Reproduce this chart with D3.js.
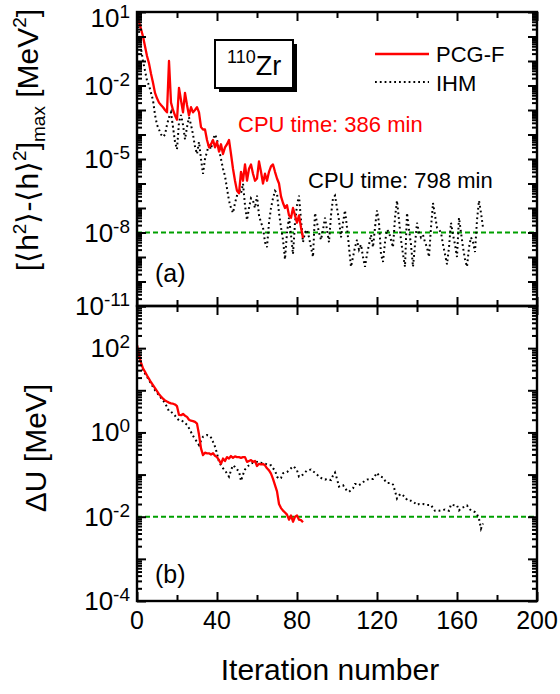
<!DOCTYPE html>
<html><head><meta charset="utf-8">
<script src="https://cdn.jsdelivr.net/npm/d3@7"></script>
<style>body{margin:0;background:#fff}text{font-family:"Liberation Sans",Arial,sans-serif}</style>
</head><body><svg id="c" width="560" height="694"></svg>
<script>
// ---------------- data ----------------
const pcgTop = [10,4,2,1,0.4,0.16,0.08,0.03,0.013,5e-3,
 3e-3,2e-3,1.6e-3,1.3e-3,1e-3,8e-4,0.1,2e-3,1e-3,6e-4,
 4e-4,8e-3,2.5e-3,8e-4,5e-3,1.6e-3,6e-4,1.3e-3,8e-4,1e-3,
 1.3e-3,8e-4,2e-4,1.6e-4,1.6e-4,6e-5,3e-5,4e-5,6e-5,3e-5,
 5e-5,2e-5,4e-5,1.6e-5,3e-5,4e-5,6e-5,1.6e-5,4e-6,1.3e-6,
 5e-7,4e-7,3e-6,1.3e-6,6e-6,1.3e-6,4e-6,6e-6,2.5e-6,1.3e-6,
 1.6e-6,8e-6,3e-6,1e-6,2.5e-6,1.3e-6,3e-6,5e-6,6e-6,3e-6,
 1.6e-6,1e-6,3e-7,1.6e-7,1e-7,1.3e-7,5e-8,4e-8,1e-7,5e-8,
 2.5e-8,5e-8,1.6e-8,6e-9];
const ihmTop = [10,1.6,0.32,0.1,0.04,1.6e-2,1e-2,5e-3,2.5e-3,6.3e-4,
 2.5e-4,1.6e-4,1e-4,8e-5,1e-4,2.5e-4,5e-4,8e-4,2e-4,5e-5,
 2.5e-5,3.2e-4,6.3e-4,2.5e-4,6.3e-5,2e-4,5e-4,2.5e-4,1e-4,3.2e-5,
 1.6e-5,5e-5,1e-5,2.5e-6,1e-5,2e-5,4e-5,2.5e-5,6.3e-5,1e-4,
 6.3e-5,2.5e-5,1e-5,4e-6,2e-6,6.3e-7,2e-7,1e-7,6.3e-8,1.6e-7,
 3.2e-7,6.3e-7,4e-7,1e-6,1.3e-7,3.2e-8,1e-7,2.5e-7,2e-7,1e-7,
 3.2e-7,5e-8,2.5e-8,1.6e-8,4e-9,2.5e-9,2.5e-8,1e-7,2.5e-7,5e-7,
 4e-7,6.3e-8,1.6e-8,5e-9,8e-10,1e-8,4e-8,8e-9,1.3e-9,2.5e-8,
 1.3e-7,3.2e-7,3.2e-8,4e-9,1e-8,1.3e-8,6.3e-9,2.5e-9,1e-9,6.3e-8,
 2.5e-8,1e-8,5e-9,1.3e-8,4e-8,1.3e-8,4e-9,5e-8,2.5e-7,3.2e-7,
 1e-7,3.2e-8,6.3e-9,2.5e-8,8e-8,1.6e-8,2.5e-9,4e-10,1e-9,2.5e-9,
 5e-9,2e-9,3.2e-9,1e-9,4e-10,1.3e-9,3.2e-9,8e-9,2.5e-9,1.6e-8,
 8e-8,2.5e-8,1.3e-9,6.3e-10,4e-9,1.3e-8,1e-8,5e-9,2.5e-9,4e-8,
 2e-7,3.2e-8,5e-9,1.3e-9,4e-10,6.3e-8,1.3e-8,3.2e-9,4e-10,3.2e-9,
 2.5e-8,1e-8,6.3e-9,8e-9,4e-9,2.5e-9,1e-9,1.6e-8,1.6e-7,5e-8,
 1.6e-8,1.3e-8,1e-8,3.2e-9,1.3e-9,5e-10,2.5e-9,2.5e-8,8e-9,3.2e-9,
 1e-9,4e-8,1e-8,2.5e-9,8e-10,4e-10,2.5e-9,6.3e-9,4e-9,1.6e-9,
 3.2e-8,2e-7,6.3e-8,1.6e-8];
const pcgBot = [117,71,45,33,27.5,22.4,18.6,15.5,13.2,11.2,
 9.5,8.1,7.1,6.3,5.75,5.4,5.1,4.9,4.8,4.6,
 4.2,2.6,2.57,2.75,2.5,2.34,2.0,1.9,1.86,1.78,
 1.62,0.89,0.42,0.29,0.33,0.32,0.32,0.30,0.32,0.28,
 0.26,0.22,0.18,0.24,0.21,0.26,0.24,0.275,0.25,0.27,
 0.26,0.26,0.25,0.26,0.26,0.20,0.21,0.22,0.20,0.21,
 0.16,0.18,0.174,0.178,0.166,0.141,0.126,0.105,0.079,0.056,
 0.040,0.020,0.016,0.014,0.0126,0.0112,0.0085,0.0107,0.0076,0.0100,
 0.0107,0.0085,0.0083,0.0074];
const ihmBot = [117,63,40,30,25,21,17.4,14.5,12,10,
 8.7,7.6,6.6,5.75,5.0,4.0,3.16,3.1,2.8,2.5,
 2.14,1.95,1.95,1.82,1.66,1.51,1.26,1.02,0.83,0.69,
 0.60,0.50,0.63,0.79,0.83,0.87,0.85,0.76,0.60,0.46,
 0.32,0.20,0.166,0.141,0.126,0.105,0.089,0.126,0.166,0.151,
 0.132,0.120,0.071,0.100,0.132,0.151,0.166,0.182,0.19,0.19,
 0.20,0.19,0.19,0.182,0.182,0.174,0.166,0.166,0.141,0.126,
 0.089,0.079,0.083,0.107,0.110,0.115,0.126,0.141,0.158,0.145,
 0.126,0.089,0.093,0.100,0.112,0.126,0.129,0.132,0.120,0.110,
 0.100,0.089,0.083,0.079,0.076,0.079,0.076,0.074,0.095,0.112,
 0.079,0.052,0.055,0.056,0.048,0.041,0.039,0.043,0.047,0.060,
 0.060,0.056,0.060,0.066,0.071,0.076,0.078,0.079,0.079,0.093,
 0.110,0.095,0.089,0.085,0.072,0.063,0.063,0.063,0.058,0.041,
 0.027,0.032,0.035,0.032,0.030,0.025,0.024,0.024,0.023,0.021,
 0.019,0.020,0.020,0.020,0.0195,0.019,0.019,0.019,0.016,0.0138,
 0.0138,0.0138,0.0141,0.0145,0.0148,0.0141,0.0138,0.0195,0.019,0.0186,
 0.0186,0.0141,0.0158,0.0166,0.0178,0.0186,0.0158,0.0141,0.0135,0.0129,
 0.0115,0.0089,0.0052,0.0069];
const xMajorTicks = [0,40,80,120,160,200];
const xMinorTicks = [20,60,100,140,180];
const topTickValues = [1e1,1e-2,1e-5,1e-8,1e-11];
const topTickExps = ["1","-2","-5","-8","-11"];
const botTickValues = [1e2,1e0,1e-2,1e-4];
const botTickExps = ["2","0","-2","-4"];
const topThreshold = 1e-8, botThreshold = 1e-2;
const seriesNames = ["PCG-F","IHM"];
const cpuTimes = ["CPU time: 386 min","CPU time: 798 min"];

// ---------------- layout ----------------
const svg = d3.select("#c");
const X0 = 137, X1 = 537, T0 = 12, MID = 306, B1 = 601;
const x = d3.scaleLinear().domain([0, 200]).range([X0, X1]);
const yT = d3.scaleLog().domain([1e-11, 1e1]).range([MID, T0]);
const yB = d3.scaleLog().domain([1e-4, 1e3]).range([B1, MID]);

function decadeTicks(scale) {
  const [lo, hi] = scale.domain().map(v => Math.round(Math.log10(v)));
  const major = [], minor = [];
  for (let e = lo; e <= hi; e++) {
    major.push(Math.pow(10, e));
    if (e < hi) for (let k = 2; k <= 9; k++) minor.push(k * Math.pow(10, e));
  }
  return {major, minor};
}

function panel(y, yTop, yBot, pcg, ihm, thr, id) {
  const g = svg.append("g");
  g.append("clipPath").attr("id", id).append("rect")
    .attr("x", X0).attr("y", yTop).attr("width", X1 - X0).attr("height", yBot - yTop);
  const pg = g.append("g").attr("clip-path", `url(#${id})`);
  pg.append("line").attr("x1", X0).attr("x2", X1).attr("y1", y(thr)).attr("y2", y(thr))
    .attr("stroke", "#00a000").attr("stroke-width", 2).attr("stroke-dasharray", "5,3");
  const line = d3.line().x((d, i) => x(i)).y(d => y(d));
  pg.append("path").datum(ihm).attr("d", line).attr("fill", "none")
    .attr("stroke", "#000").attr("stroke-width", 2).attr("stroke-dasharray", "1.8,3");
  pg.append("path").datum(pcg).attr("d", line).attr("fill", "none")
    .attr("stroke", "#ff0000").attr("stroke-width", 2.3).attr("stroke-linejoin", "round");

  const t = decadeTicks(y);
  const style = sel => { sel.select(".domain").remove(); sel.selectAll("line").attr("stroke-width", 2); };
  g.append("g").attr("transform", `translate(${X0},0)`).call(d3.axisLeft(y).tickValues(t.major).tickSize(-9).tickFormat("")).call(style);
  g.append("g").attr("transform", `translate(${X0},0)`).call(d3.axisLeft(y).tickValues(t.minor).tickSize(-5).tickFormat("")).call(style);
  g.append("g").attr("transform", `translate(${X1},0)`).call(d3.axisRight(y).tickValues(t.major).tickSize(-9).tickFormat("")).call(style);
  g.append("g").attr("transform", `translate(${X1},0)`).call(d3.axisRight(y).tickValues(t.minor).tickSize(-5).tickFormat("")).call(style);
  g.append("g").attr("transform", `translate(0,${yBot})`).call(d3.axisBottom(x).tickValues(xMajorTicks).tickSize(-9).tickFormat("")).call(style);
  g.append("g").attr("transform", `translate(0,${yBot})`).call(d3.axisBottom(x).tickValues(xMinorTicks).tickSize(-6).tickFormat("")).call(style);
  g.append("g").attr("transform", `translate(0,${yTop})`).call(d3.axisTop(x).tickValues(xMajorTicks).tickSize(-9).tickFormat("")).call(style);
  g.append("g").attr("transform", `translate(0,${yTop})`).call(d3.axisTop(x).tickValues(xMinorTicks).tickSize(-6).tickFormat("")).call(style);
  g.append("rect").attr("x", X0).attr("y", yTop).attr("width", X1 - X0).attr("height", yBot - yTop)
    .attr("fill", "none").attr("stroke", "#000").attr("stroke-width", 2.4);
}

panel(yT, T0, MID, pcgTop, ihmTop, topThreshold, "clipTop");
panel(yB, MID, B1, pcgBot, ihmBot, botThreshold, "clipBot");

// y tick labels
function yLabels(y, vals, exps) {
  vals.forEach((v, i) => {
    const t = svg.append("text").attr("x", 130).attr("y", Math.max(y(v) + 9, 27))
      .attr("text-anchor", "end").attr("font-size", 26).attr("fill", "#000");
    t.append("tspan").text("10");
    t.append("tspan").attr("font-size", 19).attr("dy", -9).text(exps[i]);
  });
}
yLabels(yT, topTickValues, topTickExps);
yLabels(yB, botTickValues, botTickExps);

// x tick labels
xMajorTicks.forEach(v => {
  svg.append("text").attr("x", x(v)).attr("y", 629).attr("text-anchor", "middle")
    .attr("font-size", 25).text(v);
});
svg.append("text").attr("x", 330).attr("y", 680).attr("text-anchor", "middle")
  .attr("font-size", 30).text("Iteration number");

// y titles
const tt = svg.append("text").attr("transform", "translate(38,140) rotate(-90)")
  .attr("text-anchor", "middle").attr("font-size", 30);
tt.append("tspan").text("[\u27E8h");
tt.append("tspan").attr("font-size", 19).attr("dy", -12).text("2");
tt.append("tspan").attr("dy", 12).text("\u27E9-\u27E8h\u27E9");
tt.append("tspan").attr("font-size", 19).attr("dy", -12).text("2");
tt.append("tspan").attr("dy", 12).text("]");
tt.append("tspan").attr("font-size", 19).attr("dy", 7).text("max");
tt.append("tspan").attr("dy", -7).text(" [MeV");
tt.append("tspan").attr("font-size", 19).attr("dy", -12).text("2");
tt.append("tspan").attr("dy", 12).text("]");

svg.append("text").attr("transform", "translate(46,448) rotate(-90)")
  .attr("text-anchor", "middle").attr("font-size", 30).text("\u0394U [MeV]");

// panel letters
svg.append("text").attr("x", 155).attr("y", 282).attr("font-size", 25).text("(a)");
svg.append("text").attr("x", 155).attr("y", 583).attr("font-size", 25).text("(b)");

// nucleus box
svg.append("rect").attr("x", 219).attr("y", 44).attr("width", 78).attr("height", 48).attr("fill", "#000");
svg.append("rect").attr("x", 215).attr("y", 40).attr("width", 78).attr("height", 48)
  .attr("fill", "#fff").attr("stroke", "#000").attr("stroke-width", 2);
const nz = svg.append("text").attr("x", 227).attr("y", 75).attr("font-size", 27);
nz.append("tspan").attr("font-size", 18).attr("dy", -12).text("110");
nz.append("tspan").attr("dy", 12).text("Zr");

// legend
svg.append("line").attr("x1", 375).attr("x2", 429).attr("y1", 54).attr("y2", 54)
  .attr("stroke", "#ff0000").attr("stroke-width", 2.3);
svg.append("text").attr("x", 436).attr("y", 62).attr("font-size", 22).text(seriesNames[0]);
svg.append("line").attr("x1", 375).attr("x2", 429).attr("y1", 82).attr("y2", 82)
  .attr("stroke", "#000").attr("stroke-width", 2).attr("stroke-dasharray", "1.8,3");
svg.append("text").attr("x", 436).attr("y", 91).attr("font-size", 22).text(seriesNames[1]);

// CPU time annotations
svg.append("text").attr("x", 238).attr("y", 132).attr("font-size", 22).attr("fill", "#ff0000").text(cpuTimes[0]);
svg.append("text").attr("x", 308).attr("y", 188).attr("font-size", 22).attr("fill", "#000").text(cpuTimes[1]);
</script></body></html>
